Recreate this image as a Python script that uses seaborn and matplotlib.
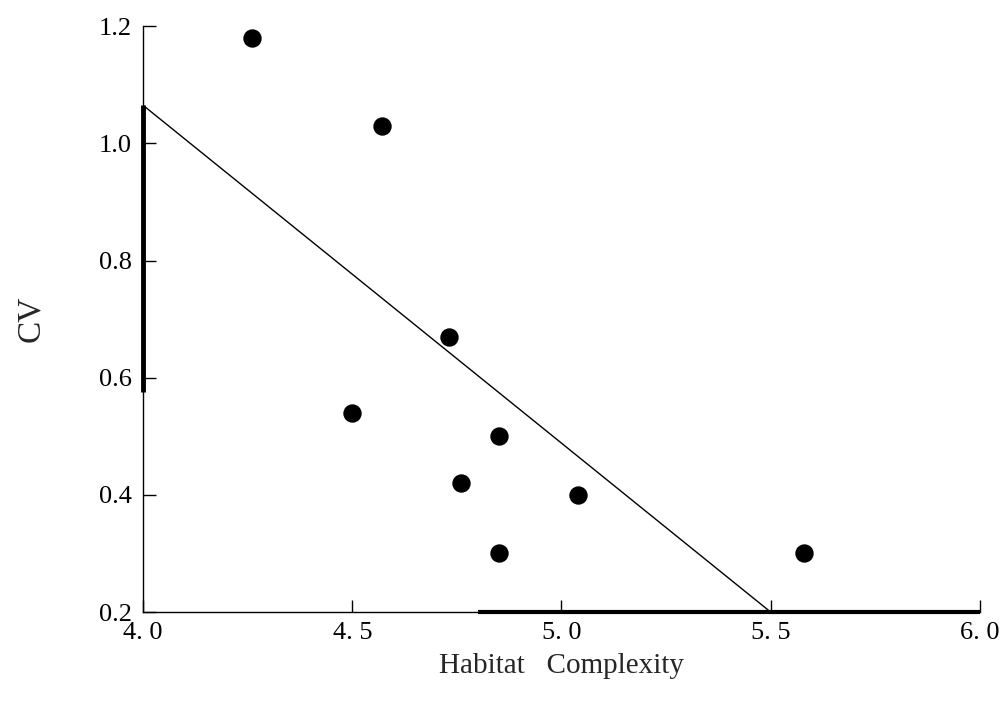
import matplotlib
matplotlib.use("Agg")
import matplotlib.pyplot as plt
import seaborn as sns
import pandas as pd

# Data
habitat = [4.26, 4.57, 4.73, 4.50, 4.85, 4.76, 5.04, 4.85, 5.58]
cv = [1.18, 1.03, 0.67, 0.54, 0.50, 0.42, 0.40, 0.30, 0.30]

# fitted line as drawn on the original
fit_x = [4.0, 5.5]
fit_y = [1.065, 0.20]

x_ticks = [4.0, 4.5, 5.0, 5.5, 6.0]
x_tick_labels = ["4. 0", "4. 5", "5. 0", "5. 5", "6. 0"]
y_ticks = [0.2, 0.4, 0.6, 0.8, 1.0, 1.2]
y_tick_labels = ["0.2", "0.4", "0.6", "0.8", "1.0", "1.2"]

df = pd.DataFrame({"Habitat Complexity": habitat, "CV": cv})
df_fit = pd.DataFrame({"x": fit_x, "y": fit_y})

sns.set_style("white")
plt.rcParams['font.family'] = ['Liberation Serif', 'DejaVu Serif']

fig = plt.figure(figsize=(10.08, 7.10), dpi=100)
ax = fig.add_axes([0.142, 0.138, 0.830, 0.825])

sns.lineplot(data=df_fit, x="x", y="y", ax=ax, color="black", linewidth=1.0)
sns.scatterplot(data=df, x="Habitat Complexity", y="CV", ax=ax,
                color="black", s=150, edgecolor="black", zorder=3)

ax.set_xlim(4.0, 6.0)
ax.set_ylim(0.2, 1.2)

ax.set_xticks(x_ticks)
ax.set_xticklabels(x_tick_labels, fontsize=19)
ax.set_yticks(y_ticks)
ax.set_yticklabels(y_tick_labels, fontsize=19)
ax.tick_params(axis="both", direction="in", length=9, width=1, colors="black",
               left=True, bottom=True)
ax.tick_params(axis="x", pad=7)
ax.tick_params(axis="y", pad=8)

for side in ["top", "right"]:
    ax.spines[side].set_visible(False)
for side in ["left", "bottom"]:
    ax.spines[side].set_color("black")
    ax.spines[side].set_linewidth(1.0)

# heavier stretches of the scanned axis lines
ax.vlines(4.0, 0.575, 1.065, color="black", linewidth=3.5, clip_on=False, zorder=4)
ax.hlines(0.2, 4.8, 6.0, color="black", linewidth=3.0, clip_on=False, zorder=4)

ax.set_xlabel("Habitat   Complexity", fontsize=21, labelpad=7)
ax.set_ylabel("CV", fontsize=24, labelpad=38)

fig.savefig("out.png", dpi=100)
